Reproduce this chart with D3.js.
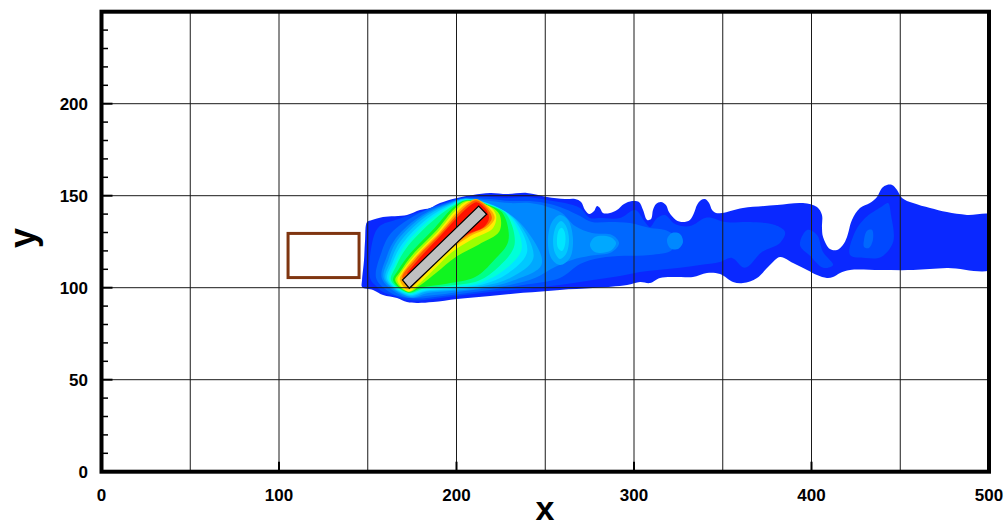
<!DOCTYPE html>
<html><head><meta charset="utf-8">
<script src="https://cdn.jsdelivr.net/npm/d3@7"></script>
<style>
body{margin:0;background:#fff}
svg{display:block}
text{font-family:"Liberation Sans",Arial,Helvetica,sans-serif;font-weight:bold;fill:#000}
</style>
</head><body>
<svg id="chart" width="1007" height="527"></svg>
<script>
// ---------- axis values ----------
const xTicks = [0, 100, 200, 300, 400, 500];
const yTicks = [0, 50, 100, 150, 200];
const xGrid = [50, 100, 150, 200, 250, 300, 350, 400, 450];
const yGrid = [50, 100, 150, 200];
const yMinorTicks = [10,20,30,40,60,70,80,90,110,120,130,140,160,170,180,190,210,220,230,240];
const xMajorTicks = [100, 200, 300, 400];

// ---------- geometry (data units) ----------
const obstacleRect = [[105.1, 105.5], [145.1, 129.5]];
const plate = [[169.5,104.2],[173.4,99.7],[217.0,139.9],[212.5,144.4]];

// ---------- contour levels (colour index 0 .. 14) ----------
const levelColors = ["#0a28ff","#0048ff","#0068ff","#0088ff","#00a8ff","#00c8ff","#00e6ff",
                     "#00ffd8","#00ff88","#10f520","#9cff00","#ffee00","#ffaa00","#ff5a00","#ff1200"];

const envelope = [
[149.6,135.7],[152.4,136.8],[158.6,138.4],[172.1,139.5],[179.4,142.2],[185.1,143.3],[190.7,146.0],[200.3,148.8],[209.3,150.4],[218.9,151.5],[228.5,150.9],[239.7,151.5],[251.0,149.3],
[261.1,148.2],[266.8,148.2],[270.2,146.6],[272.4,142.2],[274.7,140.1],[277.5,141.7],[279.2,144.4],[280.8,143.3],[282.5,140.6],[286.5,140.6],[290.4,142.2],[294.4,145.5],[298.9,147.1],[302.8,146.6],[305.1,142.2],[307.4,136.8],[309.6,137.3],[310.7,142.2],[312.4,145.5],[315.2,146.6],[318.0,145.0],[319.7,141.1],[323.6,136.8],[327.6,135.7],[331.5,136.8],[333.8,140.6],[335.5,145.0],[337.8,147.7],[340.0,148.2],[342.3,146.0],[344.0,142.2],[346.2,140.6],[349.6,140.6],
[361.4,143.3],[380.6,144.9],[395.2,146.0],[403.1,143.8],[405.9,139.5],[405.9,133.0],[406.5,127.6],[410.4,121.0],[414.4,120.5],[417.7,123.2],[420.0,127.6],[422.8,136.8],[427.3,143.3],[432.9,146.0],[436.9,149.3],[439.7,154.2],[442.5,155.8],[445.4,155.8],[448.2,153.1],[451.0,148.8],[457.2,146.0],[466.8,143.3],[476.3,141.1],[487.6,139.5],[503,138.9],
[503,110.7],[476.3,110.7],[457.2,109.6],[438.6,109.6],[421.7,109.6],[416.1,108.0],[412.1,105.8],[408.7,105.3],[403.1,106.9],[397.5,109.6],[389.6,113.4],[382.3,116.7],[376.6,112.3],[369.3,105.3],[361.4,102.5],[355.8,103.1],[348.5,107.4],[341.1,108.0],[333.2,105.8],[325.9,105.8],[314.6,105.3],[309.0,102.5],[303.4,103.1],[296.1,101.5],[276.9,99.8],[258.3,98.8],[237.5,97.2],[218.9,95.5],[200.3,93.9],[186.8,92.2],[177.7,91.7],[172.1,92.2],[166.5,94.4],[158.6,96.0],[153.0,98.8],[146.8,100.4],[146.8,104.2],[147.9,115.1],[148.5,126.0]
];

const level1 = [
[151.5,104.6],[151.9,121.5],[156.1,132.9],[167.3,137.3],[179.2,141.1],[195.3,146.9],[204.1,149.0],
[218.9,149.3],[228.5,148.8],[239.7,149.3],[251.0,147.7],[261.1,146.0],[269.6,143.3],[275.2,137.9],[280.8,137.9],[292.1,137.9],[300.6,142.2],[306.2,135.7],[309.0,133.0],[313.0,137.9],[317.5,139.5],[323.1,134.6],[331.5,133.5],[340.0,137.9],[344.0,137.9],[351.3,135.7],[365.4,135.7],[379.5,134.1],[385.1,130.3],[382.3,124.3],[372.1,119.4],[362.5,110.8],[355.2,116.2],[348.5,114.0],[337.2,112.4],[325.9,110.8],[314.6,109.7],[303.4,108.6],[292.1,106.4],[276.9,104.2],[258.3,101.5],[237.5,99.3],[218.9,97.7],[200.3,95.5],[186.8,93.9],[177.7,93.0],[171.0,93.6],[165.4,95.5],[158.6,97.7],[154.1,101.5]
];
const level1BlobA = [[393.5,123.2],[397.5,131.4],[403.1,128.7],[406.5,119.4],[412.1,112.4],[406.5,110.8],[399.2,117.3]];
const level1BlobB = [[421.7,117.8],[424.5,130.3],[430.2,137.9],[439.2,143.9],[443.1,146.0],[444.8,139.5],[446.0,124.8],[439.2,116.7],[430.2,116.2]];

const level2 = [
[154.7,105.3],[157.8,119.4],[163.2,129.7],[179.5,140.7],[195.6,146.5],[204.3,148.8],
[218.9,148.2],[230.1,147.1],[241.4,147.1],[252.7,145.5],[261.1,142.8],[269.6,139.0],[276.4,135.7],[286.5,135.7],[297.7,135.2],[309.0,132.5],[317.5,131.4],[323.1,127.6],[321.4,120.5],[309.0,117.8],[294.9,117.3],[280.8,116.2],[269.6,112.9],[258.3,105.3],[237.5,101.5],[218.9,98.8],[202.0,96.6],[187.9,95.0],[178.3,94.1],[166.9,95.5],[160.2,99.0]
];
const level2BlobB = [[429.6,126.0],[431.3,130.9],[434.1,131.4],[434.6,126.0],[432.4,121.6],[429.6,122.1]];

const level3 = [
[157.9,105.2],[160.6,116.7],[165.9,127.0],[180.7,139.6],[196.0,146.2],[204.6,148.5],
[218.9,147.1],[230.1,146.0],[241.4,146.0],[251.5,143.9],[259.4,140.6],[266.8,133.5],[276.4,129.7],[287.6,128.7],[291.6,124.3],[287.6,119.4],[275.2,117.3],[265.1,115.1],[255.5,111.3],[244.2,105.3],[230.1,101.5],[218.9,99.8],[204.8,98.2],[193.5,96.6],[182.3,95.5],[175.0,94.4],[167.3,96.6]
];
const level3BlobC = [[318.6,126.0],[321.4,129.7],[325.9,129.2],[327.6,124.8],[324.8,121.0],[320.3,121.6]];

const level4BlobD = [[275.2,123.2],[278.0,127.6],[286.5,127.6],[289.9,124.3],[286.5,119.9],[278.0,119.4]];
const eddy4 = [[251.5,126.0],[253.8,135.7],[258.3,139.5],[262.8,136.8],[265.6,127.0],[263.9,116.2],[258.3,112.4],[253.3,116.2]];
const eddy5 = [[254.4,126.0],[256.1,133.5],[258.9,136.3],[261.7,133.5],[263.4,126.0],[261.7,118.3],[258.3,115.6],[255.5,118.9]];
const eddy6 = [[256.6,126.0],[257.7,131.4],[259.4,132.5],[261.1,129.7],[261.1,123.2],[259.4,119.9],[257.2,121.6]];

const level4 = [[159.1,104.8],[161.7,115.5],[166.9,126.0],[181.3,139.0],[196.3,145.9],[204.7,148.4],[221.5,144.6],[237.7,133.3],[248.0,112.8],[231.9,103.9],[216.1,100.1],[198.4,98.3],[184.0,97.1],[173.7,94.9]];
const level5 = [[160.1,104.6],[162.9,114.3],[168.1,124.8],[182.1,138.2],[196.6,145.6],[204.9,148.3],[221.3,144.5],[234.6,135.7],[243.3,116.0],[230.4,105.4],[215.4,100.9],[197.8,98.9],[183.3,97.9],[173.5,95.5]];
const level6 = [[161.1,104.4],[163.9,113.4],[169.3,123.6],[183.1,137.2],[197.0,145.2],[205.0,148.1],[220.9,144.5],[232.2,137.3],[239.8,119.5],[228.4,107.4],[214.6,101.7],[197.2,99.5],[182.7,98.4],[173.3,96.1]];
const level7 = [[162.1,104.2],[164.9,112.4],[170.4,122.5],[184.0,136.2],[197.3,144.8],[205.2,147.9],[220.5,144.5],[230.2,138.5],[236.7,121.1],[226.5,109.3],[213.6,102.7],[196.4,100.3],[182.1,99.0],[173.1,96.7]];
const level8 = [[163.1,104.0],[165.8,111.4],[171.6,121.3],[185.2,135.1],[197.8,144.4],[205.4,147.7],[220.3,144.3],[228.3,139.7],[232.7,123.4],[224.1,111.7],[212.4,103.8],[195.7,101.1],[181.5,99.6],[173.1,97.1]];
const level9 = [[164.3,103.9],[167.4,109.9],[174.1,118.8],[187.7,132.5],[198.4,143.8],[205.6,147.5],[219.8,144.2],[226.3,140.1],[229.2,125.4],[221.0,114.8],[210.5,105.8],[194.5,102.2],[180.9,100.2],[173.0,97.4]];
const level10 = [[165.5,103.9],[168.4,108.9],[175.1,117.8],[188.9,131.4],[199.1,143.1],[205.9,147.2],[219.2,144.0],[224.3,139.7],[224.1,130.5],[212.4,123.4],[199.6,116.7],[188.6,108.1],[179.8,101.4],[173.0,97.7]];
const level11 = [[166.7,103.9],[168.9,108.3],[175.9,117.0],[189.7,130.6],[199.9,142.3],[206.3,146.8],[218.4,144.1],[222.3,139.4],[220.6,132.5],[209.3,126.6],[197.2,119.1],[187.1,109.7],[179.0,102.2],[172.9,98.0]];
const level12 = [[168.1,104.5],[169.5,107.7],[176.5,116.4],[190.3,130.0],[200.7,141.5],[206.7,146.4],[211.1,148.2],[218.0,143.7],[221.5,137.9],[217.4,132.6],[207.8,128.1],[196.1,120.3],[185.9,110.9],[178.0,103.1],[172.3,99.0]];
const level13 = [[169.5,105.4],[177.1,115.8],[190.9,129.4],[201.4,140.7],[207.3,145.8],[211.1,147.5],[217.0,143.5],[219.9,137.9],[216.2,133.0],[207.0,128.9],[195.5,120.9],[185.1,111.6],[177.0,104.1]];
const level14 = [[172.1,107.5],[178.0,114.8],[191.5,128.8],[202.2,139.9],[208.1,145.0],[211.3,146.5],[216.0,143.3],[218.3,137.9],[215.4,133.0],[206.6,129.3],[191.7,120.7]];

// drawing order table built from the arrays above
const bands = [
  [level1,1],[level1BlobA,1],[level1BlobB,1],
  [level2,2],[level2BlobB,2],
  [level3,3],[level3BlobC,3],
  [level4BlobD,4],[level4,4],[eddy4,4],
  [level5,5],[eddy5,5],
  [level6,6],[eddy6,6],
  [level7,7],[level8,8],[level9,9],[level10,10],[level11,11],[level12,12],[level13,13],[level14,14]
];

// ---------- scales ----------
const x = d3.scaleLinear().domain([0, 500]).range([101.5, 989]);
const y = d3.scaleLinear().domain([0, 250]).range([471.7, 11.7]);

const svg = d3.select("#chart");
const smooth = d3.line().x(d => x(d[0])).y(d => y(d[1])).curve(d3.curveCatmullRomClosed.alpha(0.5));
const straight = d3.line().x(d => x(d[0])).y(d => y(d[1])).curve(d3.curveLinearClosed);

const defs = svg.append("defs");
defs.append("clipPath").attr("id", "plotClip").append("rect")
  .attr("x", x(0)).attr("y", y(250)).attr("width", x(500) - x(0)).attr("height", y(0) - y(250));
defs.append("clipPath").attr("id", "plumeClip").append("path").attr("d", smooth(envelope));

const plot = svg.append("g").attr("clip-path", "url(#plotClip)");
plot.append("path").attr("d", smooth(envelope)).attr("fill", levelColors[0]);
const inner = plot.append("g").attr("clip-path", "url(#plumeClip)");
inner.selectAll("path.band").data(bands).join("path")
  .attr("class", "band")
  .attr("d", d => smooth(d[0]))
  .attr("fill", d => levelColors[d[1]]);

// grid
plot.selectAll("line.gx").data(xGrid).join("line").attr("class", "gx")
  .attr("x1", d => x(d)).attr("x2", d => x(d)).attr("y1", y(0)).attr("y2", y(250))
  .attr("stroke", "#1a1a1a").attr("stroke-width", 1);
plot.selectAll("line.gy").data(yGrid).join("line").attr("class", "gy")
  .attr("y1", d => y(d)).attr("y2", d => y(d)).attr("x1", x(0)).attr("x2", x(500))
  .attr("stroke", "#1a1a1a").attr("stroke-width", 1);

// obstacle rectangle
plot.append("rect")
  .attr("x", x(obstacleRect[0][0])).attr("y", y(obstacleRect[1][1]))
  .attr("width", x(obstacleRect[1][0]) - x(obstacleRect[0][0]))
  .attr("height", y(obstacleRect[0][1]) - y(obstacleRect[1][1]))
  .attr("fill", "none").attr("stroke", "#7f3510").attr("stroke-width", 3);

// plate
plot.append("path").attr("d", straight(plate))
  .attr("fill", "#c0c0c0").attr("stroke", "#000").attr("stroke-width", 1.2);

// ticks
svg.selectAll("line.ymaj").data(yTicks).join("line").attr("class", "ymaj")
  .attr("x1", x(0)).attr("x2", x(0) + 11).attr("y1", d => y(d)).attr("y2", d => y(d))
  .attr("stroke", "#000").attr("stroke-width", 2);
svg.selectAll("line.ymin").data(yMinorTicks).join("line").attr("class", "ymin")
  .attr("x1", x(0)).attr("x2", x(0) + 6.5).attr("y1", d => y(d)).attr("y2", d => y(d))
  .attr("stroke", "#000").attr("stroke-width", 1.5);
svg.selectAll("line.xmaj").data(xMajorTicks).join("line").attr("class", "xmaj")
  .attr("x1", d => x(d)).attr("x2", d => x(d)).attr("y1", y(0)).attr("y2", y(0) - 10)
  .attr("stroke", "#000").attr("stroke-width", 2);

// frame
svg.append("rect").attr("x", x(0)).attr("y", y(250))
  .attr("width", x(500) - x(0)).attr("height", y(0) - y(250))
  .attr("fill", "none").attr("stroke", "#000").attr("stroke-width", 4);

// tick labels
svg.selectAll("text.yl").data(yTicks).join("text").attr("class", "yl")
  .attr("x", 88).attr("y", d => y(d) + 6).attr("text-anchor", "end")
  .attr("font-size", 17).text(d => d);
svg.selectAll("text.xl").data(xTicks).join("text").attr("class", "xl")
  .attr("x", d => x(d)).attr("y", 501).attr("text-anchor", "middle")
  .attr("font-size", 17).text(d => d);

// axis titles
svg.append("text").attr("x", 545).attr("y", 520).attr("text-anchor", "middle")
  .attr("font-size", 34).text("x");
svg.append("text").attr("transform", "translate(35,238) rotate(-90)")
  .attr("text-anchor", "middle").attr("font-size", 36).text("y");
</script>
</body></html>
